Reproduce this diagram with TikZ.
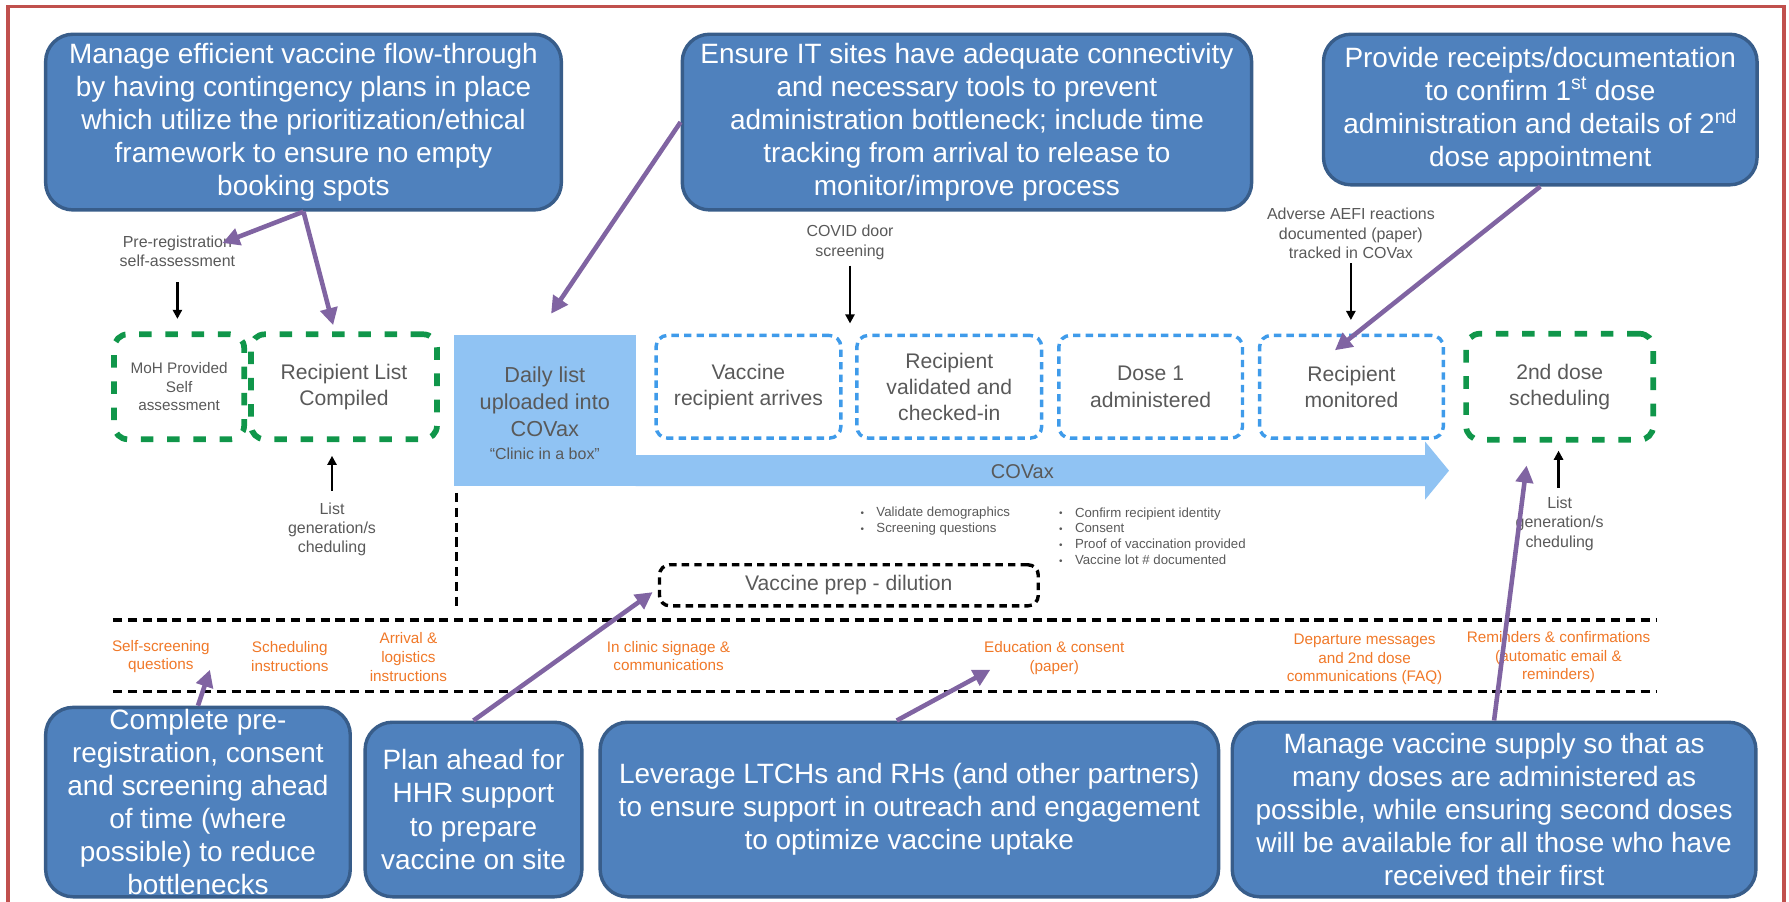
\documentclass[tikz,border=0pt]{standalone}
\usepackage{fontspec}
\setmainfont{Liberation Sans}
\usetikzlibrary{arrows.meta}

\definecolor{framered}{HTML}{C0504D}
\definecolor{calloutfill}{HTML}{4F81BD}
\definecolor{calloutedge}{HTML}{385D8A}
\definecolor{stepgreen}{HTML}{10964A}
\definecolor{stepblue}{HTML}{3F9BEA}
\definecolor{covaxblue}{HTML}{90C3F3}
\definecolor{labelgray}{HTML}{595959}
\definecolor{commorange}{HTML}{F07828}
\definecolor{notepurple}{HTML}{8064A2}

\newcommand\calloutsize{\fontsize{24.5}{29}\selectfont}
\newcommand\procsize{\fontsize{18.5}{23}\selectfont}
\newcommand\mohsize{\fontsize{13.4}{16}\selectfont}
\newcommand\notesize{\fontsize{14}{17}\selectfont}
\newcommand\orangesize{\fontsize{13.4}{16.5}\selectfont}
\newcommand\bulletsize{\fontsize{11.6}{14}\selectfont}
\newcommand\bitem{\makebox[14pt][l]{\raisebox{0.3pt}{\scalebox{0.75}{\textbullet}}}}

\begin{document}
\begin{tikzpicture}[x=1pt,y=-1pt,
  callout/.style={draw=calloutedge, line width=3pt, fill=calloutfill, rounded corners=24pt,
    text=white, align=center, inner sep=0pt, font=\calloutsize},
  greenstep/.style={draw=stepgreen, line width=5pt, dash pattern=on 11pt off 12pt,
    rounded corners=12pt, inner sep=0pt, text=labelgray, align=center},
  bluestep/.style={draw=stepblue, line width=3pt, dash pattern=on 6.5pt off 4.5pt,
    rounded corners=10pt, inner sep=0pt, text=labelgray, align=center, font=\procsize,
    minimum height=90pt},
  note/.style={text=labelgray, align=center, inner sep=0pt, font=\notesize},
  comm/.style={text=commorange, align=center, inner sep=0pt, font=\orangesize},
  bullets/.style={text=labelgray, align=left, inner sep=0pt, font=\bulletsize, anchor=west},
  blackarrow/.style={line width=2pt, -{Triangle[length=8pt,width=8pt]}},
  purplearrow/.style={draw=notepurple, line width=4pt, -{Triangle[length=15pt,width=15pt]}},
  separator/.style={line width=3pt, dash pattern=on 8pt off 5pt},
]
\useasboundingbox (0,0) rectangle (1568,790);
\clip (0,0) rectangle (1568,790);

% outer frame (open at the bottom edge)
\draw[framered, line width=3pt] (7,800) -- (7,5.5) -- (1563.5,5.5) -- (1563.5,800);

% ---------- process row ----------
\node[greenstep, minimum width=114pt, minimum height=92pt, font=\mohsize] (moh) at (157,339)
  {MoH Provided\\Self\\assessment};
\node[greenstep, minimum width=163pt, minimum height=92pt, font=\procsize] (rlc) at (301.5,339)
  {Recipient List\\Compiled};

\node[fill=covaxblue, minimum width=159pt, minimum height=132pt, inner sep=0pt] (daily) at (477.5,360) {};
\node[text=labelgray, align=center, inner sep=0pt, font=\fontsize{19}{24}\selectfont] (dailytxt) at (477.5,362)
  {Daily list\\uploaded into\\COVax\\[-4pt]{\fontsize{14}{16}\selectfont “Clinic in a box”}};

% COVax timeline arrow
\fill[covaxblue] (557,399) -- (1249,399) -- (1249,387) -- (1270,412.5) -- (1249,438)
  -- (1249,426) -- (557,426) -- cycle;
\node[text=labelgray, inner sep=0pt, font=\fontsize{17.5}{20}\selectfont] (covaxlbl) at (896,413) {COVax};

\node[bluestep, minimum width=162pt] (arrive) at (656,339) {Vaccine\\recipient arrives};
\node[bluestep, minimum width=162pt] (checkin) at (832,339) {Recipient\\validated and\\checked-in};
\node[bluestep, minimum width=161pt] (dose) at (1008.5,339) {Dose 1\\administered};
\node[bluestep, minimum width=161pt] (monitor) at (1184.5,339) {Recipient\\monitored};
\node[greenstep, minimum width=164pt, minimum height=93pt, font=\procsize] (second) at (1367,339)
  {2nd dose\\scheduling};

% side notes
\node[note] (prereg) at (155.5,220.5) {Pre-registration\\self-assessment};
\node[note] (covid) at (745,212.5) {COVID door\\screening};
\node[note] (aefi) at (1184,204.5) {Adverse AEFI reactions\\documented (paper)\\tracked in COVax};
\node[note] (listgenA) at (291,464) {List\\generation/s\\cheduling};
\node[note] (listgenB) at (1367,459) {List\\generation/s\\cheduling};

\draw[blackarrow, shorten <=13pt, shorten >=11pt] (prereg.south) -- (prereg.south |- moh.north);
\draw[blackarrow, shorten <=5pt, shorten >=9pt] (covid.south) -- (covid.south |- arrive.north);
\draw[blackarrow, shorten <=4pt, shorten >=12pt] (aefi.south) -- (aefi.south |- monitor.north);
\draw[blackarrow, shorten <=10pt, shorten >=12pt] (listgenA.north) -- (listgenA.north |- rlc.south);
\draw[blackarrow, shorten <=8pt, shorten >=7pt] ([xshift=-1pt]listgenB.north) -- ([xshift=-1pt]listgenB.north |- second.south);

% task bullets
\node[bullets] (valbul) at (754,457) {\bitem Validate demographics\\\bitem Screening questions};
\node[bullets] (dosebul) at (928,470) {\bitem Confirm recipient identity\\\bitem Consent\\
  \bitem Proof of vaccination provided\\\bitem Vaccine lot \# documented};

% vaccine preparation
\node[draw, line width=3pt, dash pattern=on 6.5pt off 4.5pt, rounded corners=9pt,
  minimum width=332pt, minimum height=36pt, inner sep=0pt, text=labelgray, font=\procsize] (prep)
  at (744,513) {Vaccine prep - dilution};

% communications band
\draw[separator] (400,432) -- (400,533);
\draw[separator] (99,543.5) -- (1452,543.5);
\draw[separator] (99,606) -- (1452,606);

\node[comm] (selfscr) at (141,575.5) {Self-screening\\questions};
\node[comm] (schedins) at (254,575.5) {Scheduling\\instructions};
\node[comm] (arrival) at (358,576) {Arrival \&\\logistics\\instructions};
\node[comm] (signage) at (586,575) {In clinic signage \&\\communications};
\node[comm] (educ) at (924,576.5) {Education \& consent\\(paper)};
\node[comm] (depart) at (1196,578) {Departure messages\\and 2nd dose\\communications (FAQ)};
\node[comm] (remind) at (1366,576) {Reminders \& confirmations\\(automatic email \&\\reminders)};

% ---------- recommendation callouts ----------
\node[callout, minimum width=452pt, minimum height=154pt] (mgflow) at (266,107)
  {Manage efficient vaccine flow-through\\by having contingency plans in place\\which utilize the prioritization/ethical\\framework to ensure no empty\\booking spots};
\node[callout, minimum width=499pt, minimum height=154pt] (itsites) at (847.5,107)
  {Ensure IT sites have adequate connectivity\\and necessary tools to prevent\\administration bottleneck; include time\\tracking from arrival to release to\\monitor/improve process};
\node[callout, minimum width=380pt, minimum height=132pt] (receipts) at (1350,96)
  {Provide receipts/documentation\\to confirm 1\textsuperscript{st} dose\\administration and details of 2\textsuperscript{nd}\\dose appointment};
\node[callout, minimum width=267pt, minimum height=166pt] (preadv) at (173.5,703)
  {Complete pre-\\registration, consent\\and screening ahead\\of time (where\\possible) to reduce\\bottlenecks};
\node[callout, minimum width=190pt, minimum height=153pt] (hhr) at (415,709.5)
  {Plan ahead for\\HHR support\\to prepare\\vaccine on site};
\node[callout, minimum width=542pt, minimum height=153pt] (leverage) at (797,709.5)
  {Leverage LTCHs and RHs (and other partners)\\to ensure support in outreach and engagement\\to optimize vaccine uptake};
\node[callout, minimum width=459pt, minimum height=153pt] (supply) at (1309.5,709.5)
  {Manage vaccine supply so that as\\many doses are administered as\\possible, while ensuring second doses\\will be available for all those who have\\received their first};

% arrow targets
\coordinate (preregtip) at (195,213);
\coordinate (rlctip) at (292,285);
\coordinate (dailytip) at (483,275);
\coordinate (monitortip) at (1170,307);
\coordinate (selfscrtip) at (184,587);
\coordinate (preptip) at (572,519);
\coordinate (eductip) at (868,587);
\coordinate (secondtip) at (1338,408);

\draw[purplearrow] (mgflow.south) -- (preregtip);
\draw[purplearrow] (mgflow.south) -- (rlctip);
\draw[purplearrow] (itsites.west) -- (dailytip);
\draw[purplearrow] (receipts.south) -- (monitortip);
\draw[purplearrow] (preadv.north) -- (selfscrtip);
\draw[purplearrow] (hhr.north) -- (preptip);
\draw[purplearrow] ([xshift=-11pt]leverage.north) -- (eductip);
\draw[purplearrow] (supply.north) -- (secondtip);
\end{tikzpicture}
\end{document}
